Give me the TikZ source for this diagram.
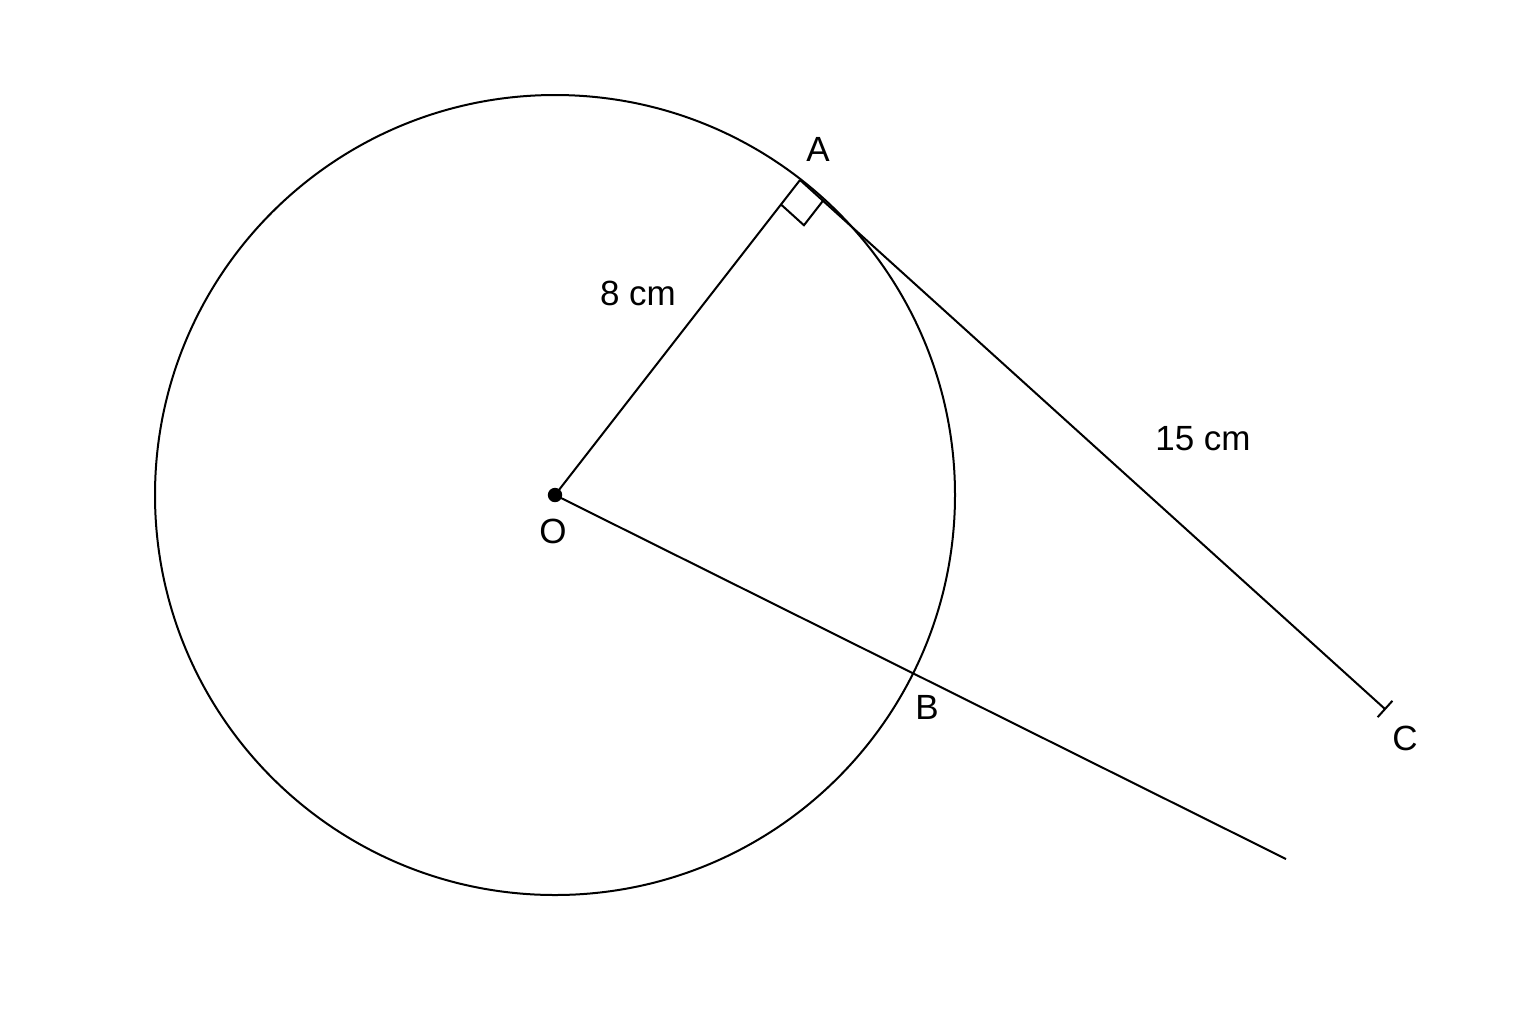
\documentclass[tikz,border=0pt]{standalone}
\usepackage{fontspec}
\setmainfont{Liberation Sans}
\usetikzlibrary{calc}
\begin{document}
\begin{tikzpicture}[x=0.5pt,y=-0.5pt,
  geo/.style={line width=1pt,black},
  lbl/.style={font=\fontsize{17.5}{20}\selectfont,inner sep=0pt}]
\useasboundingbox (0,0) rectangle (1536,1024);
\fill[white] (0,0) rectangle (1536,1024);
\coordinate (O) at (555,495);
\coordinate (A) at (800,180);
\coordinate (C) at (1385,709);
\coordinate (E) at (1286,859);
\draw[geo] (O) circle[radius=200pt];
\draw[geo] (O) -- (A);
\draw[geo] (A) -- (C);
\draw[geo] (O) -- (E);
% right angle mark
\coordinate (R1) at ($(A)!31/399!(O)$);
\coordinate (R2) at ($(A)!31/789!(C)$);
\draw[geo] (R1) -- ($(R1)+(R2)-(A)$) -- (R2);
% tick at C
\draw[geo] ($(C)!5.5pt!90:(A)$) -- ($(C)!5.5pt!-90:(A)$);
\fill (O) circle[radius=3.6pt];
\node[lbl] (lA) at (818,149) {A};
\node[lbl] (lO) at (553,531) {O};
\node[lbl] (lB) at (927,707) {B};
\node[lbl] (lC) at (1405,738) {C};
\node[lbl] (l8) at (638,293) {8 cm};
\node[lbl] (l15) at (1203,439) {15 cm};
\end{tikzpicture}
\end{document}
